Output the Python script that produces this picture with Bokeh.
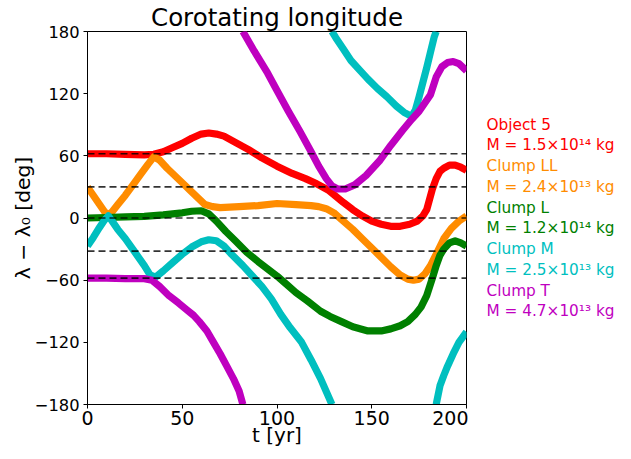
from bokeh.plotting import figure
from bokeh.models import Range1d, Span
from bokeh.layouts import row
from bokeh.core.properties import value
from bokeh.embed import file_html
from bokeh.resources import INLINE

NAN = float("nan")

# ---- data (t [yr], lambda - lambda0 [deg]); NaN marks a wrap at +/-180 ----
t_obj5 = [0, 10, 20, 30, 35, 40, 45, 50, 55, 60, 64, 68, 72, 78, 85, 92, 100, 108, 115, 121,
          127, 131, 135, 140, 145, 150, 155, 160, 165, 170, 174, 177, 179, 182, 184, 186, 188,
          191, 194, 197, 200]
v_obj5 = [62, 62, 61.5, 61, 61.5, 64, 68, 72, 77, 81, 82, 81, 79, 73, 66, 58, 50, 43, 38, 33,
          27, 21, 15, 8, 2, -3, -6, -8, -8, -6, -3, 2, 8, 28, 38, 45, 48, 51, 51, 49, 46]

t_ll = [0, 3, 6, 9, 11, 13, 16, 20, 24, 28, 32, 35, 38, 42, 46, 50, 54, 58, 62, 66, 70, 80, 90,
        100, 110, 118, 122, 126, 130, 135, 140, 145, 150, 155, 160, 165, 169, 172, 175, 178,
        181, 184, 188, 192, 196, 200]
v_ll = [30, 22, 14, 6, 3, 6, 13, 22, 32, 42, 52, 59, 56, 48, 41, 34, 27, 20, 13, 11, 10, 11, 12,
        14, 13, 12, 11, 9, 5, -3, -11, -20, -29, -38, -47, -55, -59, -60, -59, -54, -46, -35,
        -20, -10, -3, 2]

t_l = [0, 10, 20, 30, 40, 50, 55, 60, 64, 68, 73, 78, 84, 90, 95, 100, 105, 110, 116, 123, 128,
       134, 140, 148, 155, 160, 165, 169, 173, 176, 179, 182, 184, 186, 188, 191, 194, 197, 200]
v_l = [0, 0.5, 1, 1.5, 3, 5, 6.5, 7, 4, -3, -13, -22, -33, -42, -49, -56, -64, -72, -80, -90,
       -95, -100, -105, -109, -109, -107, -104, -100, -93, -86, -75, -58, -46, -36, -30, -24,
       -22, -24, -27]

t_m = [0, 3, 6, 9, 11, 13, 16, 20, 25, 30, 33, 36, 40, 45, 50, 55, 60, 64, 68, 72, 76, 82, 87,
       92, 97, 102, 107, 113, 118, 123, 129, NAN,
       129, 131, 135, 139, 144, 148, 153, 158, 163, 167, 171, 173, 175, 177, 179, 181, 183, 184, NAN,
       184, 186, 188, 190, 193, 196, 200]
v_m = [-27, -19, -10, -2, 2, -3, -11, -20, -33, -46, -55, -57, -51, -43, -35, -28, -23, -21, -22,
       -27, -35, -46, -56, -66, -78, -93, -106, -120, -137, -155, -180, NAN,
       180, 174, 163, 152, 142, 134, 125, 117, 108, 102, 98, 104, 117, 131, 145, 160, 175, 180, NAN,
       -180, -162, -152, -143, -131, -120, -110]

t_t = [0, 10, 20, 30, 34, 38, 43, 48, 52, 56, 59, 63, 66.5, 70, 73.5, 77, 80, 82, NAN,
       82, 88, 95, 100, 106, 112, 118, 122, 126, 129, 132, 136, 141, 147, 154, 160, 166, 171,
       175, 178, 181, 184, 187, 190, 193, 196, 200]
v_t = [-58, -58, -58.5, -58.5, -60, -66, -75, -82, -88, -94, -100, -109, -120, -131, -143, -155,
       -167, -180, NAN,
       180, 161, 140, 123, 103, 84, 64, 50, 38, 31, 28, 28, 32, 41, 55, 70, 84, 95, 103, 111,
       119, 136, 146, 150, 151, 149, 142]

ref_levels = [62, 30, 0, -32, -58]

names = ["Object 5", "Clump LL", "Clump L", "Clump M", "Clump T"]
masses = ["M = 1.5×10¹⁴ kg", "M = 2.4×10¹³ kg", "M = 1.2×10¹⁴ kg", "M = 2.5×10¹³ kg",
          "M = 4.7×10¹³ kg"]
colors = ["#ff0000", "#ff8c00", "#008000", "#00bfbf", "#bf00bf"]
series = [(t_obj5, v_obj5), (t_ll, v_ll), (t_l, v_l), (t_m, v_m), (t_t, v_t)]

x_ticks = [0, 50, 100, 150, 200]
y_ticks = [-180, -120, -60, 0, 60, 120, 180]

FONT = "DejaVu Sans"
H = 451
TOP, BOTTOM = 27, 47
PW = 468

p = figure(width=PW, height=H, x_range=Range1d(0, 200), y_range=Range1d(-180, 180),
           output_backend="svg", toolbar_location=None,
           min_border_left=87, min_border_right=2, min_border_top=TOP, min_border_bottom=BOTTOM)

p.title.text = "Corotating longitude"
p.title.align = "center"
p.title.text_font = FONT
p.title.text_font_size = "24.5px"
p.title.text_font_style = "normal"
p.title.text_color = "black"
p.title.standoff = 0
p.title.offset = 0

p.grid.visible = False
p.outline_line_color = "black"
p.outline_line_width = 1
p.background_fill_color = "white"
p.border_fill_color = "white"

for ax in (p.xaxis[0], p.yaxis[0]):
    ax.axis_line_color = "black"
    ax.major_tick_line_color = "black"
    ax.major_tick_out = 4
    ax.major_tick_in = 0
    ax.minor_tick_line_color = None
    ax.major_label_text_font = FONT
    ax.major_label_text_color = "black"
    ax.axis_label_text_font = FONT
    ax.axis_label_text_font_style = "normal"
    ax.axis_label_text_color = "black"

p.xaxis.ticker = x_ticks
p.yaxis.ticker = y_ticks
p.yaxis.major_label_overrides = {v: (str(v).replace("-", "−")) for v in y_ticks}
p.xaxis.major_label_text_font_size = "19px"
p.yaxis.major_label_text_font_size = "16.3px"
p.xaxis.major_label_standoff = 2
p.yaxis.major_label_standoff = 4
p.xaxis.axis_label = "t [yr]"
p.yaxis.axis_label = "λ − λ₀ [deg]"
p.xaxis.axis_label_text_font_size = "20px"
p.yaxis.axis_label_text_font_size = "20.3px"
p.xaxis.axis_label_standoff = -5
p.yaxis.axis_label_standoff = -3

for (tt, vv), c in zip(series, colors):
    p.line(tt, vv, line_color=c, line_width=7.2, line_join="round")

for lvl in ref_levels:
    p.add_layout(Span(location=lvl, dimension="width", line_color="black", line_alpha=0.8,
                      line_width=1.6, line_dash="7 4"))

# side panel holding the text legend; shares the plot's vertical data scale
QW = 626 - PW
q = figure(width=QW, height=H, x_range=Range1d(0, QW), y_range=Range1d(-180, 180),
           output_backend="svg", toolbar_location=None,
           x_axis_location=None, y_axis_location=None,
           min_border_left=0, min_border_right=0, min_border_top=TOP, min_border_bottom=BOTTOM)
q.grid.visible = False
q.outline_line_color = None
q.background_fill_color = "white"
q.border_fill_color = "white"

legend_y0 = 90
legend_step = 20
texts, tx, ty, tc = [], [], [], []
for i, (n, m, c) in enumerate(zip(names, masses, colors)):
    for j, txt in enumerate((n, m)):
        k = 2 * i + j
        texts.append(txt)
        tx.append(18)
        ty.append(legend_y0 - legend_step * k)
        tc.append(c)
q.text(x=tx, y=ty, text=texts, text_color=tc, text_font=value(FONT), text_font_size="15.3px",
       text_baseline="middle", text_align="left")

layout = row(p, q, spacing=0)
open("out.html", "w").write(file_html(layout, INLINE))
